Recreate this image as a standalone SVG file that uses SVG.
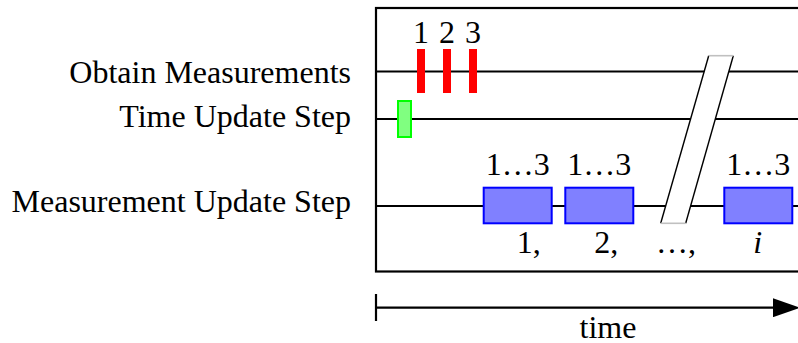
<svg xmlns="http://www.w3.org/2000/svg" width="798" height="343" viewBox="0 0 798 343">
  <style>
    text { font-family: "Liberation Serif", "Times New Roman", serif; font-size: 32px; fill: #000; }
    .lbl { text-anchor: end; }
    .mid { text-anchor: middle; }
    .track { stroke: #000; stroke-width: 2.2; fill: none; }
    .meas { fill: #ff0000; }
    .tu { fill: #80ff80; stroke: #00ff00; stroke-width: 2; }
    .mu { fill: #8080ff; stroke: #0000ff; stroke-width: 2; }
  </style>
  <defs>
    <marker id="arrowHead" viewBox="0 0 27 19" refX="0" refY="9.5" markerWidth="27" markerHeight="19" markerUnits="userSpaceOnUse" orient="auto">
      <path d="M0,0 L27,9.5 L0,19 Z" fill="#000"/>
    </marker>
  </defs>

  <!-- row labels -->
  <g id="label-obtain"><text class="lbl" x="351" y="82.5">Obtain Measurements</text></g>
  <g id="label-time-update"><text class="lbl" x="351" y="126.5">Time Update Step</text></g>
  <g id="label-meas-update"><text class="lbl" x="351" y="211.5">Measurement Update Step</text></g>

  <!-- timeline frame and tracks -->
  <g id="connectors">
    <rect x="376" y="8" width="450" height="263.5" fill="none" stroke="#000" stroke-width="2.2"/>
    <line class="track" x1="376" y1="71.5" x2="800" y2="71.5"/>
    <line class="track" x1="376" y1="119" x2="800" y2="119"/>
    <line class="track" x1="376" y1="206" x2="800" y2="206"/>
    <!-- time axis -->
    <line x1="376" y1="294" x2="376" y2="321" stroke="#000" stroke-width="2.2"/>
    <line x1="376" y1="307.7" x2="773" y2="307.7" stroke="#000" stroke-width="2.2" marker-end="url(#arrowHead)"/>
  </g>

  <!-- measurements 1, 2, 3 -->
  <g id="measurements">
    <rect class="meas" x="417" y="49" width="8" height="44"/>
    <rect class="meas" x="443" y="49" width="8" height="44"/>
    <rect class="meas" x="469" y="49" width="8" height="44"/>
    <text class="mid" x="421" y="42.7">1</text>
    <text class="mid" x="447" y="42.7">2</text>
    <text class="mid" x="473" y="42.7">3</text>
  </g>

  <!-- time update -->
  <g id="time-update">
    <rect class="tu" x="398" y="101" width="13" height="36"/>
  </g>

  <!-- measurement updates -->
  <g id="meas-update-1">
    <rect class="mu" x="483.7" y="187.7" width="68" height="35.6"/>
    <text class="mid" x="517.7" y="175">1…3</text>
    <text x="516.7" y="253">1,</text>
  </g>
  <g id="meas-update-2">
    <rect class="mu" x="565.3" y="187.7" width="68" height="35.6"/>
    <text class="mid" x="599.3" y="175">1…3</text>
    <text x="594.3" y="253">2,</text>
  </g>
  <g id="ellipsis">
    <text x="656" y="253">…,</text>
  </g>
  <g id="meas-update-i">
    <rect class="mu" x="724.3" y="187.7" width="68" height="35.6"/>
    <text class="mid" x="758.3" y="175">1…3</text>
    <text x="753.3" y="253" font-style="italic">i</text>
  </g>

  <!-- time break -->
  <g id="time-break">
    <polygon points="708.7,55.7 733.3,55.7 685.7,223.3 660.7,223.3" fill="#fff" stroke="none"/>
    <line x1="708.7" y1="55.7" x2="660.7" y2="223.3" stroke="#000" stroke-width="1.4"/>
    <line x1="733.3" y1="55.7" x2="685.7" y2="223.3" stroke="#000" stroke-width="1.4"/>
    <line x1="708.7" y1="55.7" x2="733.3" y2="55.7" stroke="#c0c0c0" stroke-width="1.6"/>
    <line x1="660.7" y1="223.3" x2="685.7" y2="223.3" stroke="#c0c0c0" stroke-width="1.6"/>
  </g>

  <!-- axis caption -->
  <g id="axis-label"><text class="mid" x="608" y="338">time</text></g>
</svg>
